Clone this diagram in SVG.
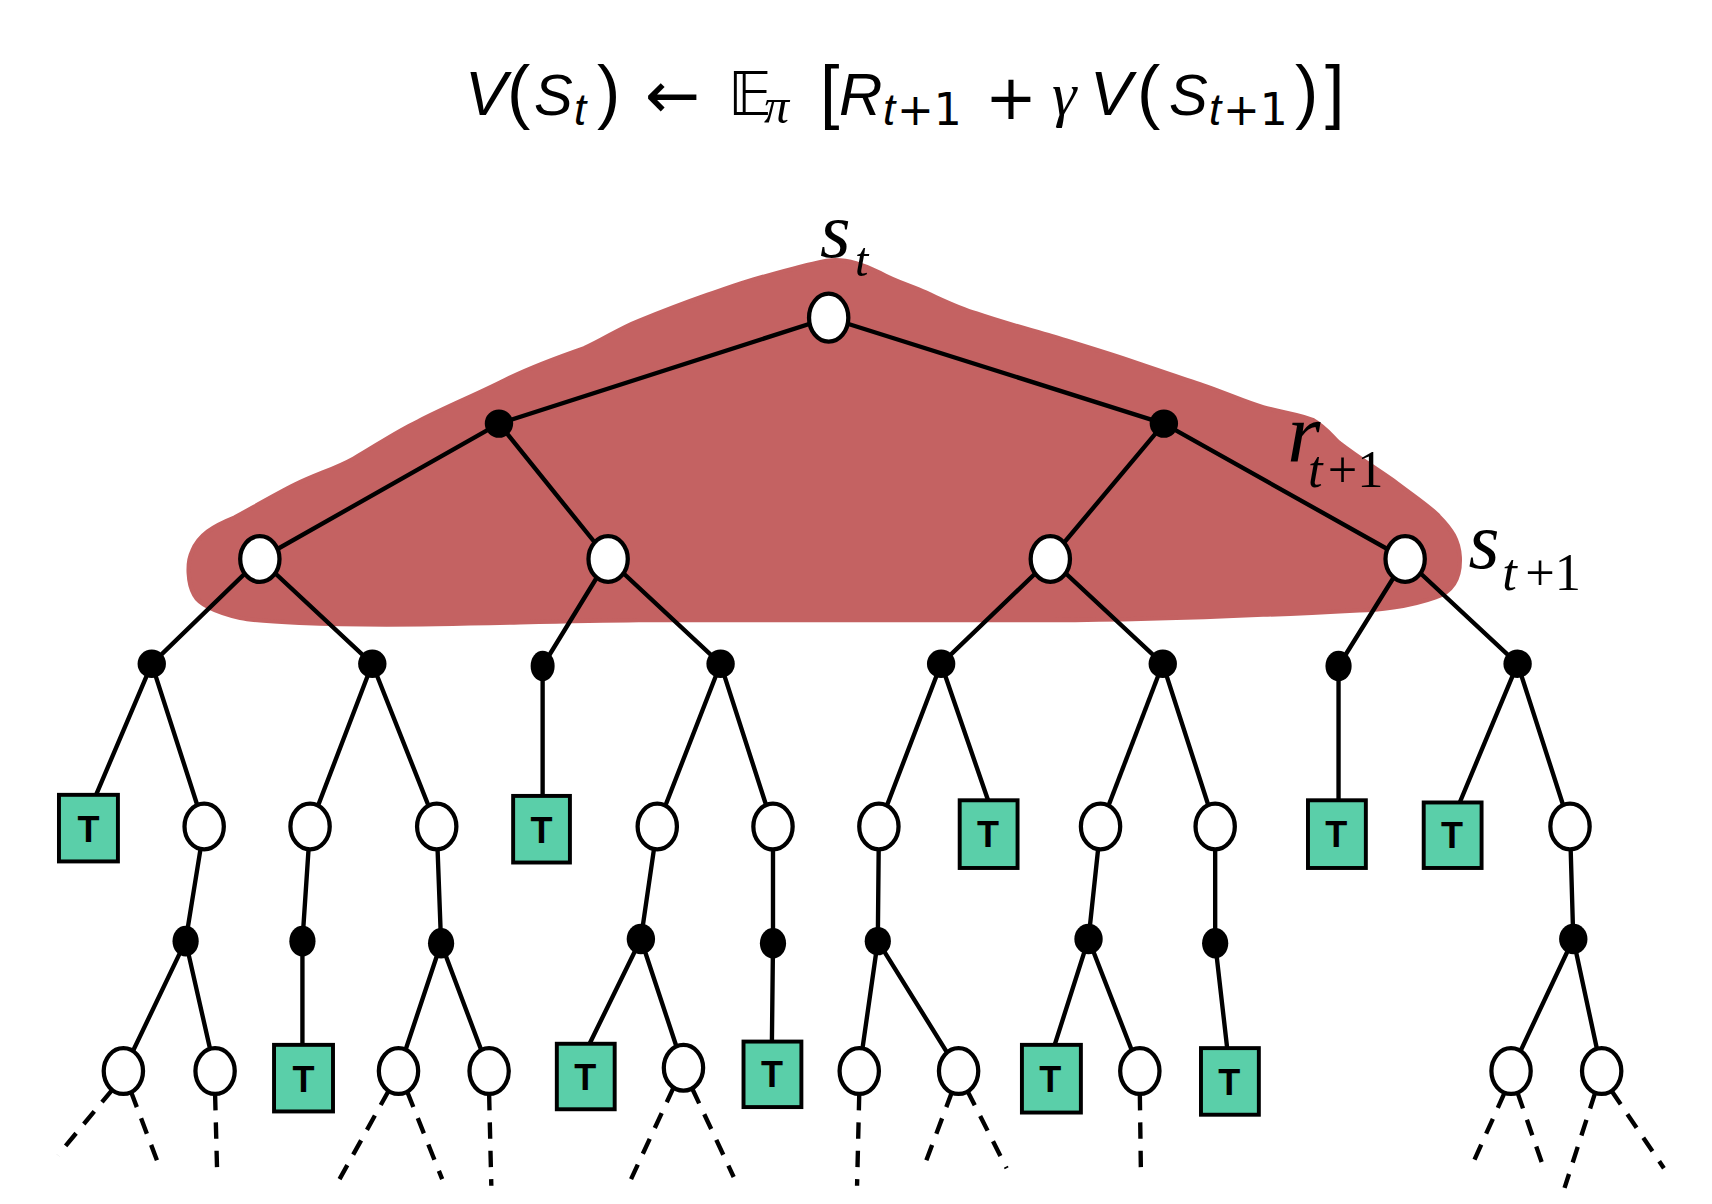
<svg xmlns="http://www.w3.org/2000/svg" width="1712" height="1204" viewBox="0 0 1712 1204">
<defs>
<style>
.e{stroke:#000;stroke-width:4;fill:none;stroke-linecap:round}
.d{stroke:#000;stroke-width:4;fill:none;stroke-dasharray:15 11}
.o{fill:#fff;stroke:#000;stroke-width:3.9}
.a{fill:#000}
.tb{fill:#5acfa9;stroke:#000;stroke-width:3.6}
.tt{font-family:"Liberation Sans",Arial,sans-serif;font-weight:bold;font-size:33px;text-anchor:middle;fill:#000}
.title{font-family:"Liberation Sans","DejaVu Sans",sans-serif;fill:#000}
.lb{font-family:"Liberation Serif","Times New Roman",serif;font-style:italic;fill:#000}
</style>
</defs>
<rect width="1712" height="1204" fill="#fff"/>
<text id="title" class="title"><tspan x="465" y="115" font-size="63" font-style="italic">V</tspan><tspan x="507" y="115" font-size="70">(</tspan><tspan x="534" y="115" font-size="58" font-style="italic">S</tspan><tspan x="574" y="125" font-size="44" font-style="italic">t</tspan><tspan x="597" y="115" font-size="70">)</tspan><tspan x="645" y="118" font-size="66" font-family="DejaVu Sans">←</tspan><tspan x="728" y="115" font-size="60" font-family="DejaVu Sans">𝔼</tspan><tspan x="764" y="123" font-size="50" font-style="italic" font-family="Liberation Serif">π</tspan><tspan x="820" y="115" font-size="70">[</tspan><tspan x="839" y="115" font-size="60" font-style="italic">R</tspan><tspan x="883" y="125" font-size="44" font-style="italic">t</tspan><tspan x="897" y="125" font-size="44" font-family="DejaVu Sans">+1</tspan><tspan x="985" y="119" font-size="62" font-family="DejaVu Sans">+</tspan><tspan x="1052" y="115" font-size="62" font-style="italic" font-family="Liberation Serif">γ</tspan><tspan x="1090" y="115" font-size="63" font-style="italic">V</tspan><tspan x="1137" y="115" font-size="70">(</tspan><tspan x="1169" y="115" font-size="58" font-style="italic">S</tspan><tspan x="1209" y="125" font-size="44" font-style="italic">t</tspan><tspan x="1223" y="125" font-size="44" font-family="DejaVu Sans">+1</tspan><tspan x="1295" y="115" font-size="70">)</tspan><tspan x="1325" y="115" font-size="70">]</tspan></text>
<g transform="scale(1.0918)">
<path id="blob" fill="#c46262" stroke="#c46262" stroke-width="4" stroke-linejoin="round" d="M 757,239 C 775,236 795,244 806,250 C 820,258 835,262 848,268 C 870,278 880,283 894,287 C 920,296 940,301 964,308 C 990,316 1010,322 1034,330 C 1060,339 1085,347 1105,354 C 1125,361 1140,368 1157,373 C 1175,378 1192,380 1203,385 C 1215,392 1220,400 1227,406 C 1245,420 1265,432 1280,443 C 1300,458 1312,466 1318,473 C 1330,485 1336,495 1337,510 C 1338,530 1330,542 1315,547 C 1290,556 1260,559 1245,559 C 1210,561 1190,562 1157,563 C 1090,566 1030,568 964,568 C 830,568 700,567 585,568 C 500,569 420,572 354,572 C 300,572 240,570 220,566 C 195,560 182,553 178,545 C 172,535 171,515 176,505 C 182,490 195,482 215,474 C 235,463 252,453 270,444 C 290,434 306,430 324,420 C 345,408 362,396 383,386 C 410,372 440,360 467,346 C 492,334 512,327 535,319 C 553,311 567,301 585,294 C 607,285 628,277 648,270 C 663,265 676,260 690,256 C 720,248 740,242 757,239 Z"/>
<g id="labels">
<text class="lb" x="751" y="235" font-size="72">s</text>
<text class="lb" x="783" y="253" font-size="44">t</text>
<text class="lb" x="1179" y="423" font-size="78">r<tspan x="1198" y="446" font-size="48">t</tspan><tspan x="1216" y="446" font-size="48" font-style="normal">+1</tspan></text>
<text class="lb" x="1345" y="520" font-size="73">s<tspan x="1376" y="540" font-size="48">t</tspan><tspan x="1397" y="540" font-size="48" font-style="normal">+1</tspan></text>
</g>
<g id="connectors">
<line class="e" x1="759" y1="291" x2="457" y2="388"/>
<line class="e" x1="759" y1="291" x2="1066" y2="388"/>
<line class="e" x1="457" y1="388" x2="238" y2="512"/>
<line class="e" x1="457" y1="388" x2="557" y2="512"/>
<line class="e" x1="1066" y1="388" x2="962" y2="512"/>
<line class="e" x1="1066" y1="388" x2="1287" y2="512"/>
<line class="e" x1="238" y1="512" x2="139" y2="608"/>
<line class="e" x1="238" y1="512" x2="341" y2="608"/>
<line class="e" x1="557" y1="512" x2="497" y2="610"/>
<line class="e" x1="557" y1="512" x2="660" y2="608"/>
<line class="e" x1="962" y1="512" x2="862" y2="608"/>
<line class="e" x1="962" y1="512" x2="1065" y2="608"/>
<line class="e" x1="1287" y1="512" x2="1226" y2="610"/>
<line class="e" x1="1287" y1="512" x2="1390" y2="608"/>
<line class="e" x1="139" y1="608" x2="88" y2="728"/>
<line class="e" x1="139" y1="608" x2="187" y2="757"/>
<line class="e" x1="341" y1="608" x2="284" y2="757"/>
<line class="e" x1="341" y1="608" x2="400" y2="757"/>
<line class="e" x1="497" y1="610" x2="497" y2="729"/>
<line class="e" x1="660" y1="608" x2="602" y2="757"/>
<line class="e" x1="660" y1="608" x2="708" y2="757"/>
<line class="e" x1="862" y1="608" x2="805" y2="757"/>
<line class="e" x1="862" y1="608" x2="905" y2="733"/>
<line class="e" x1="1065" y1="608" x2="1008" y2="757"/>
<line class="e" x1="1065" y1="608" x2="1113" y2="757"/>
<line class="e" x1="1226" y1="610" x2="1226" y2="733"/>
<line class="e" x1="1390" y1="608" x2="1337" y2="735"/>
<line class="e" x1="1390" y1="608" x2="1438" y2="757"/>
<line class="e" x1="187" y1="757" x2="170" y2="862"/>
<line class="e" x1="284" y1="757" x2="277" y2="862"/>
<line class="e" x1="400" y1="757" x2="404" y2="864"/>
<line class="e" x1="602" y1="757" x2="587" y2="860"/>
<line class="e" x1="708" y1="757" x2="708" y2="864"/>
<line class="e" x1="805" y1="757" x2="804" y2="862"/>
<line class="e" x1="1008" y1="757" x2="997" y2="860"/>
<line class="e" x1="1113" y1="757" x2="1113" y2="864"/>
<line class="e" x1="1438" y1="757" x2="1441" y2="860"/>
<line class="e" x1="170" y1="862" x2="113" y2="981"/>
<line class="e" x1="170" y1="862" x2="197" y2="981"/>
<line class="e" x1="277" y1="862" x2="277" y2="957"/>
<line class="e" x1="404" y1="864" x2="365" y2="981"/>
<line class="e" x1="404" y1="864" x2="448" y2="981"/>
<line class="e" x1="587" y1="860" x2="540" y2="956"/>
<line class="e" x1="587" y1="860" x2="626" y2="978"/>
<line class="e" x1="708" y1="864" x2="707" y2="954"/>
<line class="e" x1="804" y1="862" x2="787" y2="981"/>
<line class="e" x1="804" y1="862" x2="878" y2="981"/>
<line class="e" x1="997" y1="860" x2="966" y2="957"/>
<line class="e" x1="997" y1="860" x2="1044" y2="981"/>
<line class="e" x1="1113" y1="864" x2="1124" y2="960"/>
<line class="e" x1="1441" y1="860" x2="1384" y2="981"/>
<line class="e" x1="1441" y1="860" x2="1467" y2="981"/>
<line class="d" x1="103" y1="998" x2="53" y2="1058"/>
<line class="d" x1="120" y1="1000" x2="145" y2="1066"/>
<line class="d" x1="197" y1="1002" x2="199" y2="1078"/>
<line class="d" x1="356" y1="999" x2="311" y2="1080"/>
<line class="d" x1="373" y1="1000" x2="405" y2="1080"/>
<line class="d" x1="448" y1="1002" x2="450" y2="1086"/>
<line class="d" x1="617" y1="996" x2="578" y2="1080"/>
<line class="d" x1="634" y1="997" x2="672" y2="1078"/>
<line class="d" x1="787" y1="1002" x2="785" y2="1086"/>
<line class="d" x1="872" y1="1000" x2="845" y2="1072"/>
<line class="d" x1="886" y1="999" x2="922" y2="1070"/>
<line class="d" x1="1044" y1="1002" x2="1045" y2="1075"/>
<line class="d" x1="1378" y1="1001" x2="1347" y2="1070"/>
<line class="d" x1="1390" y1="1001" x2="1414" y2="1070"/>
<line class="d" x1="1461" y1="1001" x2="1433" y2="1088"/>
<line class="d" x1="1476" y1="999" x2="1524" y2="1070"/>
</g>
<g id="n0"><ellipse class="o" cx="759" cy="291" rx="18" ry="22"/></g>
<g id="a1"><ellipse class="a" cx="457" cy="388" rx="13" ry="13"/></g>
<g id="a2"><ellipse class="a" cx="1066" cy="388" rx="13" ry="13"/></g>
<g id="s1"><ellipse class="o" cx="238" cy="512" rx="18" ry="21"/></g>
<g id="s2"><ellipse class="o" cx="557" cy="512" rx="18" ry="21"/></g>
<g id="s3"><ellipse class="o" cx="962" cy="512" rx="18" ry="21"/></g>
<g id="s4"><ellipse class="o" cx="1287" cy="512" rx="18" ry="21"/></g>
<g id="a3"><ellipse class="a" cx="139" cy="608" rx="13" ry="13"/></g>
<g id="a4"><ellipse class="a" cx="341" cy="608" rx="13" ry="13"/></g>
<g id="a5"><ellipse class="a" cx="497" cy="610" rx="11" ry="14"/></g>
<g id="a6"><ellipse class="a" cx="660" cy="608" rx="13" ry="13"/></g>
<g id="a7"><ellipse class="a" cx="862" cy="608" rx="13" ry="13"/></g>
<g id="a8"><ellipse class="a" cx="1065" cy="608" rx="13" ry="13"/></g>
<g id="a9"><ellipse class="a" cx="1226" cy="610" rx="12" ry="14"/></g>
<g id="a10"><ellipse class="a" cx="1390" cy="608" rx="13" ry="13"/></g>
<g id="t1"><rect class="tb" x="54" y="728" width="54" height="61"/><text class="tt" x="81" y="771">T</text></g>
<g id="o1"><ellipse class="o" cx="187" cy="757" rx="18" ry="21"/></g>
<g id="o2"><ellipse class="o" cx="284" cy="757" rx="18" ry="21"/></g>
<g id="o3"><ellipse class="o" cx="400" cy="757" rx="18" ry="21"/></g>
<g id="t2"><rect class="tb" x="470" y="729" width="52" height="61"/><text class="tt" x="496" y="772">T</text></g>
<g id="o4"><ellipse class="o" cx="602" cy="757" rx="18" ry="21"/></g>
<g id="o5"><ellipse class="o" cx="708" cy="757" rx="18" ry="21"/></g>
<g id="o6"><ellipse class="o" cx="805" cy="757" rx="18" ry="21"/></g>
<g id="t3"><rect class="tb" x="879" y="733" width="53" height="62"/><text class="tt" x="905" y="776">T</text></g>
<g id="o7"><ellipse class="o" cx="1008" cy="757" rx="18" ry="21"/></g>
<g id="o8"><ellipse class="o" cx="1113" cy="757" rx="18" ry="21"/></g>
<g id="t4"><rect class="tb" x="1198" y="733" width="53" height="62"/><text class="tt" x="1224" y="776">T</text></g>
<g id="t5"><rect class="tb" x="1304" y="735" width="53" height="60"/><text class="tt" x="1330" y="777">T</text></g>
<g id="o9"><ellipse class="o" cx="1438" cy="757" rx="18" ry="21"/></g>
<g id="b1"><ellipse class="a" cx="170" cy="862" rx="12" ry="14"/></g>
<g id="b2"><ellipse class="a" cx="277" cy="862" rx="12" ry="14"/></g>
<g id="b3"><ellipse class="a" cx="404" cy="864" rx="12" ry="14"/></g>
<g id="b4"><ellipse class="a" cx="587" cy="860" rx="13" ry="14"/></g>
<g id="b5"><ellipse class="a" cx="708" cy="864" rx="12" ry="14"/></g>
<g id="b6"><ellipse class="a" cx="804" cy="862" rx="12" ry="13"/></g>
<g id="b7"><ellipse class="a" cx="997" cy="860" rx="13" ry="14"/></g>
<g id="b8"><ellipse class="a" cx="1113" cy="864" rx="12" ry="14"/></g>
<g id="b9"><ellipse class="a" cx="1441" cy="860" rx="13" ry="14"/></g>
<g id="p1"><ellipse class="o" cx="113" cy="981" rx="18" ry="21"/></g>
<g id="p2"><ellipse class="o" cx="197" cy="981" rx="18" ry="21"/></g>
<g id="t6"><rect class="tb" x="251" y="957" width="54" height="61"/><text class="tt" x="278" y="1000">T</text></g>
<g id="p3"><ellipse class="o" cx="365" cy="981" rx="18" ry="21"/></g>
<g id="p4"><ellipse class="o" cx="448" cy="981" rx="18" ry="21"/></g>
<g id="t7"><rect class="tb" x="510" y="956" width="53" height="60"/><text class="tt" x="536" y="998">T</text></g>
<g id="p5"><ellipse class="o" cx="626" cy="978" rx="18" ry="21"/></g>
<g id="t8"><rect class="tb" x="681" y="954" width="53" height="60"/><text class="tt" x="707" y="996">T</text></g>
<g id="p6"><ellipse class="o" cx="787" cy="981" rx="18" ry="21"/></g>
<g id="p7"><ellipse class="o" cx="878" cy="981" rx="18" ry="21"/></g>
<g id="t9"><rect class="tb" x="936" y="957" width="54" height="62"/><text class="tt" x="962" y="1000">T</text></g>
<g id="p8"><ellipse class="o" cx="1044" cy="981" rx="18" ry="21"/></g>
<g id="t10"><rect class="tb" x="1100" y="960" width="53" height="61"/><text class="tt" x="1126" y="1003">T</text></g>
<g id="p9"><ellipse class="o" cx="1384" cy="981" rx="18" ry="21"/></g>
<g id="p10"><ellipse class="o" cx="1467" cy="981" rx="18" ry="21"/></g>
</g>
</svg>
